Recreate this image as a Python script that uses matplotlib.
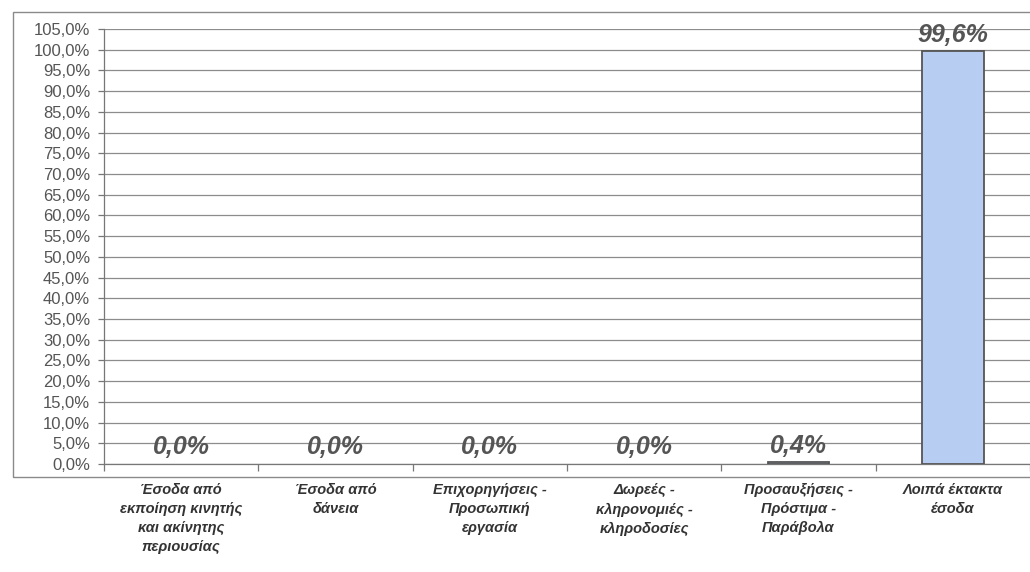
import matplotlib
matplotlib.use("Agg")
import matplotlib.pyplot as plt
from matplotlib.patches import Rectangle
import numpy as np

categories = [
    "Έσοδα από\nεκποίηση κινητής\nκαι ακίνητης\nπεριουσίας",
    "Έσοδα από\nδάνεια",
    "Επιχορηγήσεις -\nΠροσωπική\nεργασία",
    "Δωρεές -\nκληρονομιές -\nκληροδοσίες",
    "Προσαυξήσεις -\nΠρόστιμα -\nΠαράβολα",
    "Λοιπά έκτακτα\nέσοδα",
]
values = [0.0, 0.0, 0.0, 0.0, 0.4, 99.6]
y_ticks = list(range(0, 106, 5))

plt.rcParams["font.family"] = ["Liberation Sans", "DejaVu Sans"]

fig = plt.figure(figsize=(10.3, 5.72), dpi=100)
ax = fig.add_axes([104 / 1030, 1 - 464 / 572, 1 - 104 / 1030, (464 - 29) / 572])

# outer chart frame
fig.patches.append(Rectangle((13 / 1030, 1 - 477 / 572), 1.2, (477 - 12) / 572,
                             transform=fig.transFigure, fill=False,
                             edgecolor="#8a8a8a", lw=1.0))

x = np.arange(len(categories))
# zero-height bars show no outline, like the spreadsheet original
edge_widths = [1.3 if v > 0 else 0 for v in values]
ax.bar(x, values, width=0.4, color="#b8cdf2", edgecolor="#555555",
       linewidth=edge_widths, zorder=3)

for xi, v in zip(x, values):
    ax.annotate(f"{v:.1f}%".replace(".", ","), (xi, v), xytext=(0, 7),
                textcoords="offset points", ha="center", va="baseline",
                fontsize=18, fontweight="bold", fontstyle="italic", color="#555555")

ax.set_xlim(-0.5, len(categories) - 0.5)
ax.set_ylim(0, 105)
ax.set_yticks(y_ticks)
ax.set_yticklabels([f"{t:.1f}%".replace(".", ",") for t in y_ticks])
ax.yaxis.grid(True, color="#8c8c8c", lw=0.9, zorder=0)
ax.tick_params(axis="y", length=4, width=0.9, color="#777777", pad=6,
               labelsize=12, labelcolor="#555555")

ax.set_xticks(x)
ax.set_xticklabels(categories, fontsize=10.5, fontweight="bold", fontstyle="italic",
                   color="#333333", linespacing=1.45)
ax.set_xticks(np.arange(len(categories) + 1) - 0.5, minor=True)
ax.tick_params(axis="x", which="major", length=0, pad=14)
ax.tick_params(axis="x", which="minor", length=5, width=0.9, color="#777777")

for side in ["top", "right"]:
    ax.spines[side].set_visible(False)
for side in ["left", "bottom"]:
    ax.spines[side].set_color("#777777")
    ax.spines[side].set_linewidth(0.9)

fig.savefig("out.png", dpi=100)
plt.close(fig)
